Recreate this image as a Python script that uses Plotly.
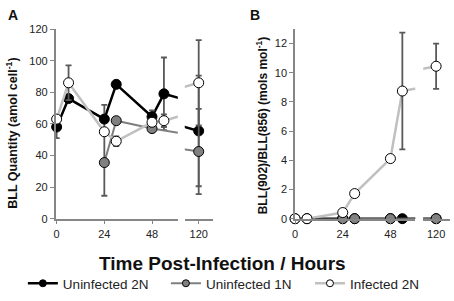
import plotly.graph_objects as go

# ---- data ----
hours = [0, 6, 24, 30, 48, 54, 120]

# Panel A: BLL quantity (amol cell^-1)
a_unf2n = [58, 76, 63, 85, 64.5, 79, 55.5]
a_unf2n_up = [7, 0, 9, 0, 4, 23, 35]
a_unf2n_dn = [7, 0, 9, 0, 4, 23, 35]

hours_1n = [24, 30, 48, 120]
a_unf1n = [35.5, 62, 57, 42.5]
a_unf1n_up = [21, 0, 0, 27]
a_unf1n_dn = [21, 0, 0, 27]

a_inf2n = [63, 86, 55, 49, 61, 62, 86]
a_inf2n_up = [0, 11, 0, 3, 0, 4, 27]
a_inf2n_dn = [0, 11, 0, 3, 0, 4, 27]

# Panel B: BLL(902)/BLL(856) (mols mol^-1)
b_unf2n = [0, 0, 0, 0, 0, 0, 0]
b_unf1n = [0, 0, 0, 0]
b_inf2n = [0, 0, 0.42, 1.72, 4.12, 8.75, 10.45]
b_inf2n_up = [0, 0, 0, 0, 0, 4.0, 1.55]
b_inf2n_dn = [0, 0, 0, 0, 0, 4.0, 1.55]

series_names = ["Uninfected 2N", "Uninfected 1N", "Infected 2N"]
a_ticks = [0, 20, 40, 60, 80, 100, 120]
b_ticks = [0, 2, 4, 6, 8, 10, 12]

# ---- styles ----
W, H = 454, 301
line_cols = ["#000000", "#7f7f7f", "#c0c0c0"]
fill_cols = ["#000000", "#808080", "#ffffff"]
line_w = [2.5, 2, 2.5]
err_col = "#595959"
axis_col = "#868686"
font_fam = "Arial, Liberation Sans, sans-serif"

def px_x(p):
    return p / W

def px_y(p):
    return (H - p) / H

ydom = [px_y(221.5), px_y(24)]
segs = {
    "x": dict(domain=[px_x(53), px_x(176)], range=[-0.5, 61], tickvals=[0, 24, 48]),
    "x2": dict(domain=[px_x(183), px_x(211)], range=[113, 127], tickvals=[120]),
    "x3": dict(domain=[px_x(294), px_x(415)], range=[0, 60.5], tickvals=[0, 24, 48]),
    "x4": dict(domain=[px_x(423), px_x(450)], range=[113.5, 127], tickvals=[120]),
}

fig = go.Figure()

def add_series(xs, ys, up, dn, idx, xaxis, yaxis, rng):
    # full line (clipped by the axis break)
    fig.add_trace(go.Scatter(
        x=xs, y=ys, mode="lines", xaxis=xaxis, yaxis=yaxis,
        line=dict(color=line_cols[idx], width=line_w[idx]),
        showlegend=False, hoverinfo="skip"))
    # markers inside this segment
    keep = [i for i, xv in enumerate(xs) if rng[0] <= xv <= rng[1]]
    fx = [xs[i] for i in keep]
    fy = [ys[i] for i in keep]
    kw = {}
    if up is not None:
        kw["error_y"] = dict(type="data", symmetric=False,
                             array=[up[i] for i in keep], arrayminus=[dn[i] for i in keep],
                             color=err_col, thickness=1.8, width=3)
    fig.add_trace(go.Scatter(
        x=fx, y=fy, mode="markers", xaxis=xaxis, yaxis=yaxis, name=series_names[idx],
        marker=dict(size=10, color=fill_cols[idx], line=dict(color="#000000", width=1)),
        cliponaxis=False, showlegend=False, **kw))

for xa in ["x", "x2"]:
    rng = segs[xa]["range"]
    add_series(hours, a_unf2n, a_unf2n_up, a_unf2n_dn, 0, xa, "y", rng)
    add_series(hours_1n, a_unf1n, a_unf1n_up, a_unf1n_dn, 1, xa, "y", rng)
    add_series(hours, a_inf2n, a_inf2n_up, a_inf2n_dn, 2, xa, "y", rng)

for xa in ["x3", "x4"]:
    rng = segs[xa]["range"]
    add_series(hours, b_unf2n, None, None, 0, xa, "y2", rng)
    add_series(hours_1n, b_unf1n, None, None, 1, xa, "y2", rng)
    add_series(hours, b_inf2n, b_inf2n_up, b_inf2n_dn, 2, xa, "y2", rng)

# legend entries: one legend per series for exact placement
legend_ids = ["legend", "legend2", "legend3"]
legend_left_px = [20, 164, 309]
for i, nm in enumerate(series_names):
    fig.add_trace(go.Scatter(
        x=[None], y=[None], mode="lines+markers", name=nm, legend=legend_ids[i],
        line=dict(color=line_cols[i], width=line_w[i]),
        marker=dict(size=7, color=fill_cols[i], line=dict(color="#000000", width=1)),
        showlegend=True))

axis_common = dict(showline=True, linecolor=axis_col, linewidth=1.5, ticks="outside",
                   ticklen=4, tickcolor=axis_col, tickwidth=1.2, showgrid=False,
                   zeroline=False, tickfont=dict(family=font_fam, size=11, color="#222222"),
                   fixedrange=True)

layout = dict(
    width=W, height=H, margin=dict(l=0, r=0, t=0, b=0),
    paper_bgcolor="white", plot_bgcolor="white",
    font=dict(family=font_fam, color="#222222"),
    yaxis=dict(domain=ydom, range=[0, 120], tickvals=a_ticks, anchor="x", **axis_common),
    yaxis2=dict(domain=ydom, range=[0, 13], tickvals=b_ticks, anchor="x3", **axis_common),
    showlegend=True,
)
for lid, lx in zip(legend_ids, legend_left_px):
    layout[lid] = dict(orientation="h", x=px_x(lx), y=px_y(289), xanchor="left",
                       yanchor="middle", itemwidth=30,
                       font=dict(family=font_fam, size=13.5, color="#222222"),
                       bgcolor="rgba(0,0,0,0)")
for name, cfg in segs.items():
    key = "xaxis" if name == "x" else "xaxis" + name[1:]
    anchor = "y" if name in ("x", "x2") else "y2"
    layout[key] = dict(domain=cfg["domain"], range=cfg["range"], tickvals=cfg["tickvals"],
                       anchor=anchor, **axis_common)

fig.update_layout(**layout)

annots = [
    dict(text="<b>A</b>", x=px_x(10), y=px_y(9), font=dict(size=14)),
    dict(text="<b>B</b>", x=px_x(254), y=px_y(9), font=dict(size=14)),
    dict(text="<b>BLL Quantity (amol cell<sup>-1</sup>)</b>", x=px_x(9), y=px_y(132),
         textangle=-90, font=dict(size=12.5)),
    dict(text="<b>BLL(902)/BLL(856) (mols mol<sup>-1</sup>)</b>", x=px_x(261), y=px_y(125),
         textangle=-90, font=dict(size=12)),
    dict(text="<b>Time Post-Infection / Hours</b>", x=px_x(221), y=px_y(268),
         font=dict(size=19)),
]
for a in annots:
    fig.add_annotation(xref="paper", yref="paper", showarrow=False,
                       xanchor="center", yanchor="middle",
                       font_family=font_fam, font_color="#111111", **a)

fig.write_html("out.html", config={"displayModeBar": False},
               post_script="document.body.style.margin='0';document.body.style.padding='0';")
